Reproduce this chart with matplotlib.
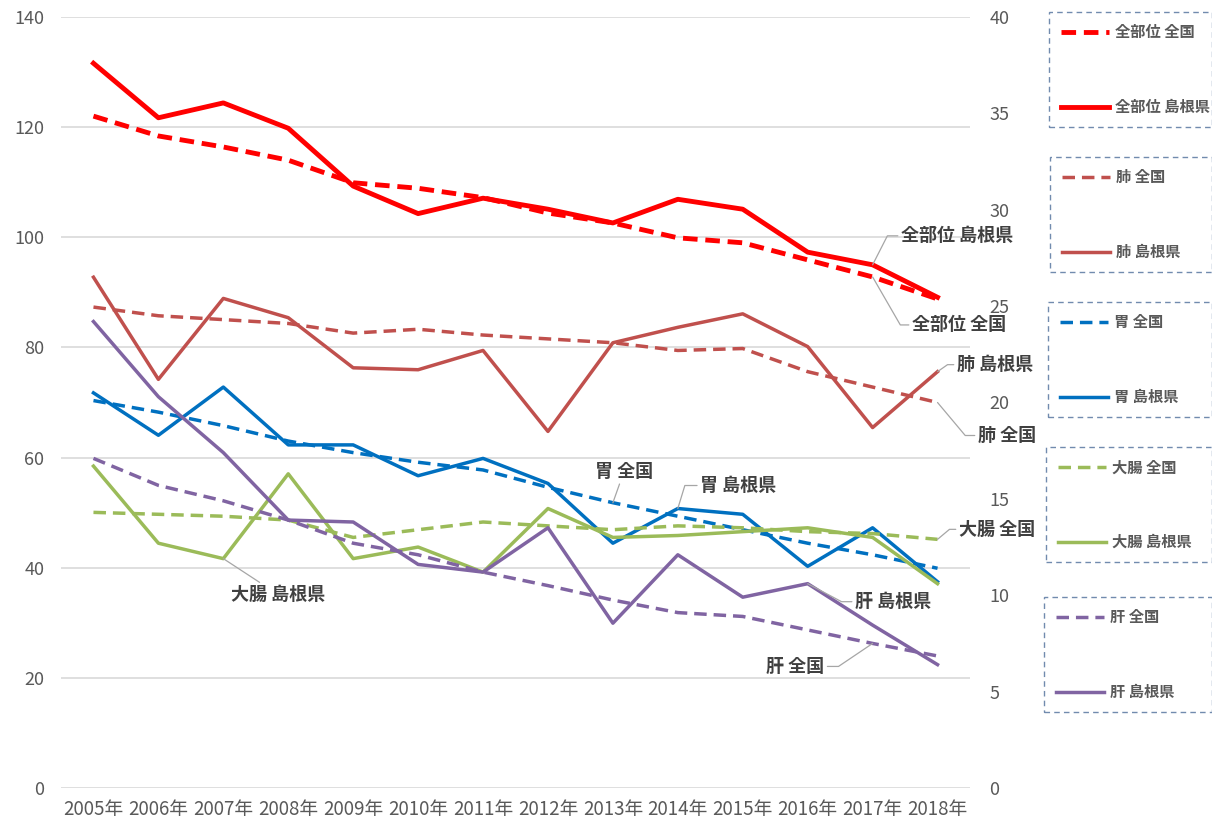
import numpy as np
import matplotlib
matplotlib.use("Agg")
import matplotlib.pyplot as plt

plt.rcParams['font.family'] = ['Noto Sans CJK JP', 'DejaVu Sans']

# 75歳未満年齢調整死亡率（人口10万対）
years = ['2005年', '2006年', '2007年', '2008年', '2009年', '2010年', '2011年',
         '2012年', '2013年', '2014年', '2015年', '2016年', '2017年', '2018年']

# 全部位（左軸）
all_nat = [122.0, 118.4, 116.4, 114.0, 109.9, 108.9, 107.2, 104.4, 102.6, 99.9, 99.0, 95.9, 92.8, 88.8]
all_shimane = [131.6, 121.7, 124.4, 119.8, 109.3, 104.3, 107.1, 105.1, 102.6, 106.9, 105.1, 97.3, 95.0, 89.1]

# 部位別（右軸）
lung_nat = [24.95, 24.5, 24.3, 24.1, 23.6, 23.8, 23.5, 23.3, 23.1, 22.7, 22.8, 21.6, 20.8, 20.0]
lung_shimane = [26.5, 21.2, 25.4, 24.4, 21.8, 21.7, 22.7, 18.5, 23.1, 23.9, 24.6, 22.9, 18.7, 21.6]
stomach_nat = [20.1, 19.5, 18.8, 18.0, 17.4, 16.9, 16.5, 15.6, 14.8, 14.1, 13.4, 12.7, 12.1, 11.4]
stomach_shimane = [20.5, 18.3, 20.8, 17.8, 17.8, 16.2, 17.1, 15.8, 12.7, 14.5, 14.2, 11.5, 13.5, 10.7]
colon_nat = [14.3, 14.2, 14.1, 13.9, 13.0, 13.4, 13.8, 13.6, 13.4, 13.6, 13.5, 13.3, 13.2, 12.9]
colon_shimane = [16.7, 12.7, 11.9, 16.3, 11.9, 12.5, 11.2, 14.5, 13.0, 13.1, 13.3, 13.5, 13.0, 10.6]
liver_nat = [17.1, 15.7, 14.9, 13.9, 12.7, 12.1, 11.2, 10.5, 9.75, 9.1, 8.9, 8.2, 7.5, 6.85]
liver_shimane = [24.2, 20.3, 17.4, 13.9, 13.8, 11.6, 11.2, 13.5, 8.55, 12.1, 9.9, 10.6, 8.45, 6.4]

x = np.arange(len(years))

fig = plt.figure(figsize=(12.12, 8.24), dpi=100)
ax = fig.add_axes([61 / 1212, 1 - 788 / 824, 909 / 1212, 771 / 824])
ax2 = ax.twinx()

ax.set_xlim(-0.5, len(years) - 0.5)
ax.set_ylim(0, 140)
ax2.set_ylim(0, 40)
ax.set_yticks(np.arange(0, 141, 20))
ax2.set_yticks(np.arange(0, 41, 5))
ax.set_xticks(x)
ax.set_xticklabels(years)

ax.yaxis.grid(True, color='#D9D9D9', lw=1.2)
ax.set_axisbelow(True)
for a in (ax, ax2):
    for s in a.spines.values():
        s.set_visible(False)
ax.tick_params(axis='y', length=0, pad=12, labelsize=13, labelcolor='#595959')
ax.tick_params(axis='x', length=0, pad=8, labelsize=13.5, labelcolor='#595959')
ax2.tick_params(axis='y', length=0, pad=14, labelsize=13, labelcolor='#595959')

dash_big = (0, (3.0, 1.6))
dash = (0, (3.6, 2.0))
lw_big, lw = 3.5, 2.5

l_all_n, = ax.plot(x, all_nat, color='#FF0000', lw=lw_big, ls=dash_big)
l_all_s, = ax.plot(x, all_shimane, color='#FF0000', lw=lw_big, solid_joinstyle='round')

series = [
    (lung_nat, lung_shimane, '#C0504D', '肺'),
    (stomach_nat, stomach_shimane, '#0070C0', '胃'),
    (colon_nat, colon_shimane, '#9BBB59', '大腸'),
    (liver_nat, liver_shimane, '#8064A2', '肝'),
]
pairs = [(l_all_n, l_all_s, '全部位')]
for nat, shim, col, name in series:
    ln, = ax2.plot(x, nat, color=col, lw=lw, ls=dash)
    ls_, = ax2.plot(x, shim, color=col, lw=lw, solid_joinstyle='round')
    pairs.append((ln, ls_, name))

# 凡例（部位ごとに点線枠）
tops = [12, 157, 302, 447, 597]
lefts = [1049, 1050, 1048, 1046, 1044]
for (ln, ls_, name), top, left in zip(pairs, tops, lefts):
    leg = fig.legend([ln, ls_], [f'{name} 全国', f'{name} 島根県'],
                     loc='upper left',
                     bbox_to_anchor=(left / 1212, 1 - top / 824, (1211.5 - left) / 1212, 0),
                     mode='expand', borderaxespad=0,
                     handlelength=3.1, handletextpad=0.4, borderpad=0.8,
                     labelspacing=3.85, fancybox=False, prop={'weight': 'bold', 'size': 11})
    fr = leg.get_frame()
    fr.set_linestyle((0, (4, 3)))
    fr.set_edgecolor('#4E6E9A')
    fr.set_linewidth(1.0)
    fr.set_facecolor('none')
    for t in leg.get_texts():
        t.set_color('#595959')


def label(a, xi, yv, text, dx, dy, ha='left', angle=None):
    cs = 'arc3' if angle is None else f'angle,angleA=0,angleB={angle},rad=0'
    a.annotate(text, xy=(xi, yv), xytext=(dx, dy), textcoords='offset pixels',
               ha=ha, va='center', fontsize=13, fontweight='bold', color='#404040',
               arrowprops=dict(arrowstyle='-', color='#A6A6A6', lw=0.9,
                               connectionstyle=cs, shrinkA=0, shrinkB=0))


label(ax, 12, all_shimane[12], '全部位 島根県', 28, 29, angle=63)
label(ax, 12, all_nat[12], '全部位 全国', 39, -48, angle=-60)
label(ax2, 13, lung_shimane[13], '肺 島根県', 19, 7, angle=35)
label(ax2, 13, lung_nat[13], '肺 全国', 40, -33, angle=-50)
label(ax2, 8, stomach_nat[8], '胃 全国', 11, 31, ha='center')
label(ax2, 9, stomach_shimane[9], '胃 島根県', 22, 23, angle=73)
label(ax2, 13, colon_nat[13], '大腸 全国', 21, 10, angle=40)
label(ax2, 2, colon_shimane[2], '大腸 島根県', 55, -36, ha='center')
label(ax2, 11, liver_shimane[11], '肝 島根県', 47, -18, angle=-28)
label(ax2, 12, liver_nat[12], '肝 全国', -48, -23, ha='right', angle=34)

fig.savefig('out.png', dpi=100)
